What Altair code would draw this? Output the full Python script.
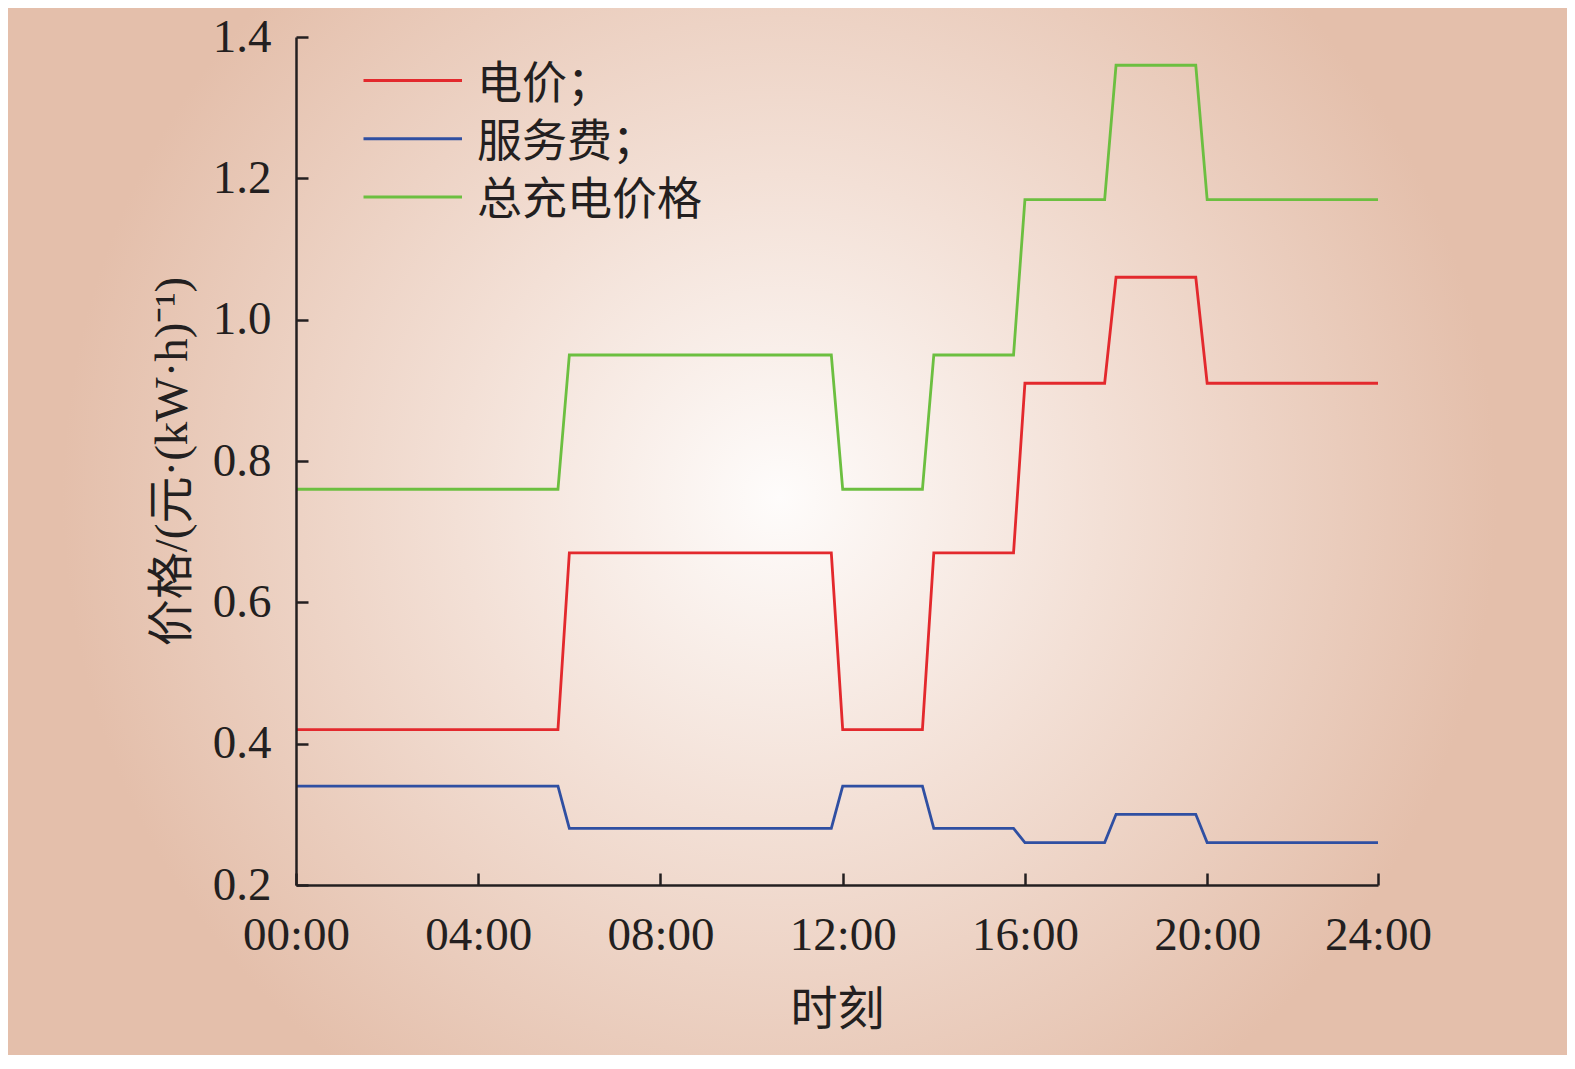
import altair as alt
import pandas as pd

# ---- data ----
hours = [0, 5.75, 6, 11.75, 12, 13.75, 14, 15.75, 16, 17.75, 18, 19.75, 20, 23.75]
price = [0.42, 0.42, 0.67, 0.67, 0.42, 0.42, 0.67, 0.67, 0.91, 0.91, 1.06, 1.06, 0.91, 0.91]
service = [0.34, 0.34, 0.28, 0.28, 0.34, 0.34, 0.28, 0.28, 0.26, 0.26, 0.30, 0.30, 0.26, 0.26]
total = [0.76, 0.76, 0.95, 0.95, 0.76, 0.76, 0.95, 0.95, 1.17, 1.17, 1.36, 1.36, 1.17, 1.17]

series_names = ["电价；", "服务费；", "总充电价格"]
series_colors = ["#e3292d", "#2f4fa2", "#6cbf40"]

x_tick_values = [0, 4, 8, 12, 16, 20, 23.75]
x_tick_labels = ["00:00", "04:00", "08:00", "12:00", "16:00", "20:00", "24:00"]
y_tick_values = [0.2, 0.4, 0.6, 0.8, 1.0, 1.2, 1.4]

x_title = "时刻"
y_title = "价格/(元·(kW·h)⁻¹)"

rows = []
for name, vals in zip(series_names, [price, service, total]):
    for h, v in zip(hours, vals):
        rows.append({"hour": h, "value": v, "series": name})
df = pd.DataFrame(rows)
legend_df = pd.DataFrame({"series": series_names})

# ---- layout / style ----
W, H = 1082, 848
PAD = {"left": 288, "top": 29, "right": 189, "bottom": 170}
INK = "#231f20"
SERIF = "'Liberation Serif', 'Noto Sans CJK SC'"
CJK = "'Noto Sans CJK SC'"
FS = 47

label_expr = " : ".join(
    f"datum.value == {v} ? '{l}'" for v, l in zip(x_tick_values, x_tick_labels)
) + " : ''"

x_scale = alt.Scale(domain=[0, 23.75], nice=False, zero=False)
y_scale = alt.Scale(domain=[0.2, 1.4], nice=False, zero=False)
color_scale = alt.Scale(domain=series_names, range=series_colors)

main_x_axis = alt.Axis(
    orient="bottom", values=x_tick_values, labelExpr=label_expr, ticks=False, tickSize=0,
    grid=False, labelFont=SERIF, labelFontSize=FS, labelColor=INK, labelPadding=27,
    labelFlush=False, labelOverlap=False, zindex=2,
    domainColor=INK, domainWidth=2.5, title=x_title, titleFont=CJK, titleFontSize=FS,
    titleFontWeight="normal", titleColor=INK, titlePadding=29,
)
main_y_axis = alt.Axis(
    orient="left", values=y_tick_values, format=".1f", ticks=False, tickSize=0,
    grid=False, labelFont=SERIF, labelFontSize=FS, labelColor=INK, labelPadding=25,
    labelFlush=False, labelOverlap=False, zindex=2,
    domainColor=INK, domainWidth=2.5, title=y_title, titleFont=SERIF, titleFontSize=FS,
    titleFontWeight="normal", titleColor=INK, titlePadding=16,
)
tick_x_axis = alt.Axis(
    orient="bottom", values=x_tick_values, offset=-12, tickSize=12, tickWidth=2.5,
    tickColor=INK, labels=False, domain=False, grid=False, title=None, zindex=2,
)
tick_y_axis = alt.Axis(
    orient="left", values=y_tick_values, offset=-12, tickSize=12, tickWidth=2.5,
    tickColor=INK, labels=False, domain=False, grid=False, title=None, zindex=2,
)

bg = alt.Chart(pd.DataFrame({"k": [0]})).mark_rect(
    fill=alt.RadialGradient(
        gradient="radial",
        stops=[
            alt.GradientStop(color="#fefcfb", offset=0),
            alt.GradientStop(color="#f3e0d6", offset=0.45),
            alt.GradientStop(color="#e4bfab", offset=1),
        ],
        x1=0.495, y1=0.478, r1=0,
        x2=0.495, y2=0.478, r2=0.46,
    ),
    strokeWidth=0,
).encode(
    x=alt.value(-PAD["left"]), x2=alt.value(W + PAD["right"]),
    y=alt.value(-PAD["top"]), y2=alt.value(H + PAD["bottom"]),
)

lines = alt.Chart(df).mark_line(strokeWidth=2.8).encode(
    x=alt.X("hour:Q", scale=x_scale, axis=main_x_axis),
    y=alt.Y("value:Q", scale=y_scale, axis=main_y_axis),
    color=alt.Color("series:N", scale=color_scale, legend=None),
)

ticks = alt.Chart(df).mark_line(opacity=0).encode(
    x=alt.X("hour:Q", scale=x_scale, axis=tick_x_axis),
    y=alt.Y("value:Q", scale=y_scale, axis=tick_y_axis),
    detail="series:N",
)

legend_y = alt.Y("series:N", scale=alt.Scale(type="point", domain=series_names,
                                             range=[43.5, 160], padding=0), axis=None)

legend_rule = alt.Chart(legend_df).mark_rule(strokeWidth=2.8).encode(
    x=alt.value(67.5), x2=alt.value(166),
    y=legend_y,
    color=alt.Color("series:N", scale=color_scale, legend=None),
)
legend_text = alt.Chart(legend_df).mark_text(
    align="left", baseline="middle", font=CJK, fontSize=45, color=INK, dy=4,
).encode(
    x=alt.value(181),
    y=legend_y,
    text="series:N",
)

chart = (
    alt.layer(bg, lines, ticks, legend_rule, legend_text)
    .resolve_scale(y="independent")
    .resolve_axis(x="independent", y="independent")
    .properties(
        width=W, height=H,
        autosize=alt.AutoSizeParams(type="none"),
        padding=PAD,
    )
    .configure(background="#e4bfab")
    .configure_view(stroke=None)
)

chart.save("out.html", embed_options={"renderer": "svg", "actions": False})
